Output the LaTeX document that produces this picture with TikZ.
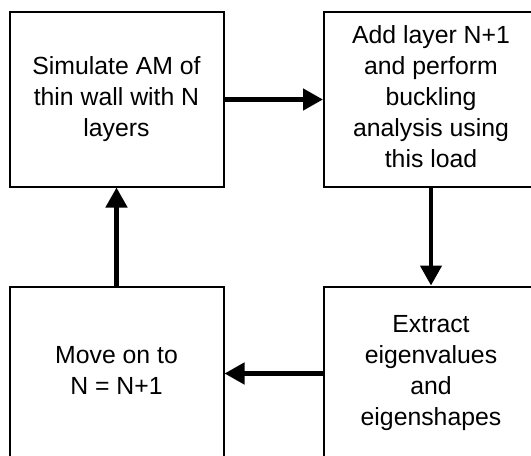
\documentclass[tikz,border=0pt]{standalone}
\usepackage{fontspec}
\setmainfont{Liberation Sans}
\usetikzlibrary{arrows.meta}
\newcommand\lnstrut{\rule[-0.212em]{0pt}{1.117em}}
\begin{document}
\begin{tikzpicture}[x=0.75pt,y=-0.75pt,
  box/.style={draw=black, line width=1.5pt, minimum width=160.5pt,
    minimum height=130.5pt, inner sep=0pt, align=center, text=black,
    font=\fontsize{18.6}{23.25}\selectfont,
    execute at begin node=\lnstrut, execute at end node=\lnstrut},
  flow/.style={draw=black, line width=3.4pt, -{Triangle[length=15pt,width=15.75pt]}}]
\useasboundingbox (0,0) rectangle (531,456);
\clip (0,0) rectangle (531,456);
\node[box] (sim) at (116.5,99.5) {Simulate AM of\\thin wall with N\\layers};
\node[box] (add) at (431,99.5) {Add layer N+1\\and perform\\buckling\\analysis using\\this load};
\node[box] (ext) at (431,373.5) {Extract\\eigenvalues\\and\\eigenshapes};
\node[box] (move) at (116.5,373.5) {Move on to\\N = N+1};
\draw[flow] (sim.east) -- (add.west);
\draw[flow] (add.south) -- (ext.north);
\draw[flow] (ext.west) -- (move.east);
\draw[flow] (move.north) -- (sim.south);
\end{tikzpicture}
\end{document}
